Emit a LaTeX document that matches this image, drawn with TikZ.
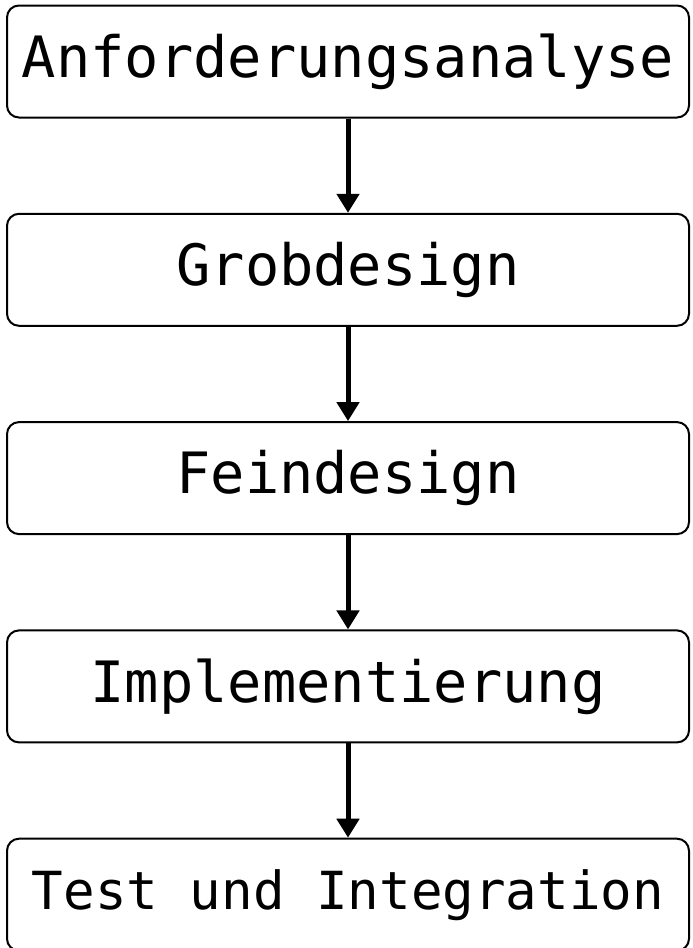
\documentclass[tikz,border=0pt]{standalone}
\usepackage{fontspec}
\setmonofont{DejaVu Sans Mono}
\usetikzlibrary{arrows.meta}

\begin{document}
\begin{tikzpicture}[x=1pt,y=1pt]
	\tikzset{phase/.style={draw, line width=2pt, rounded corners=12pt, minimum width=682pt, minimum height=112pt, inner sep=0pt, font=\ttfamily\fontsize{#1}{60}\selectfont}};
	\tikzset{flow/.style={line width=5pt, -{Triangle[length=19pt,width=22pt]}}};
	\useasboundingbox (0,0) rectangle (693,-948);
	\foreach \y/\name/\fs/\txt in {0/p1/57/Anforderungsanalyse, 1/p2/57/Grobdesign,
	2/p3/57/Feindesign, 3/p4/57/Implementierung, 4/p5/52.5/Test und Integration}{
		\node[phase=\fs] (\name) at (348, -61.5-208.3*\y) {\txt};
	}
	\foreach \a/\b in {p1/p2, p2/p3, p3/p4, p4/p5}{
		\draw[flow] (\a.south) -- (\b.north);
	}
\end{tikzpicture}
\end{document}
